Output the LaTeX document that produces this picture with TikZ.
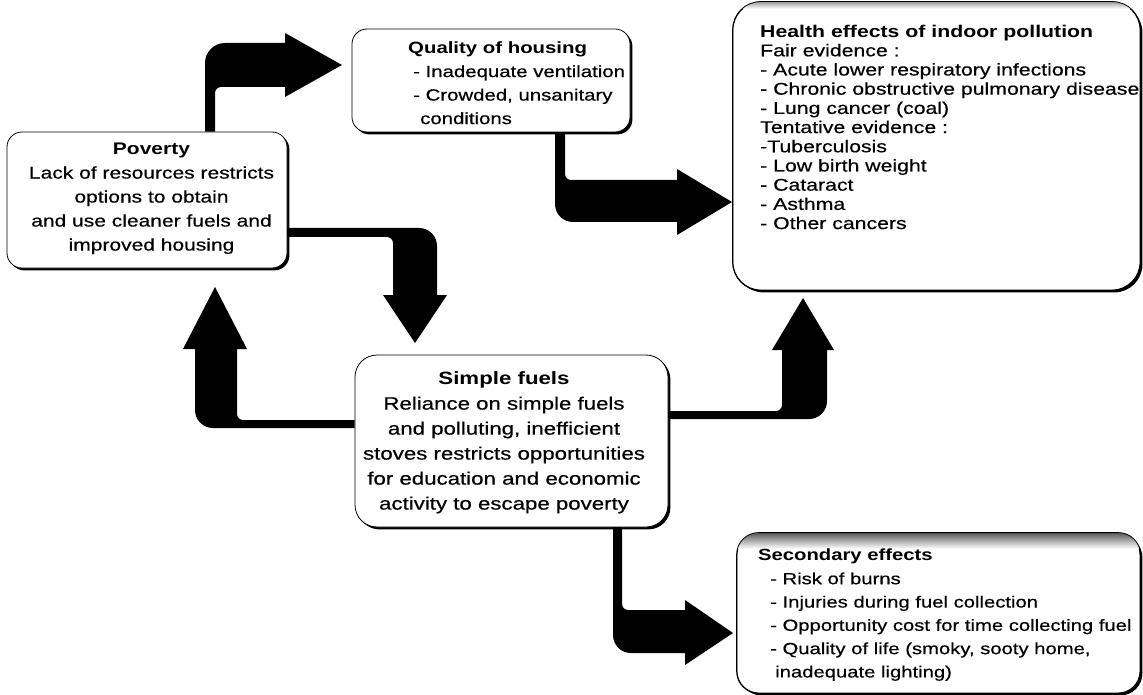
\documentclass[tikz,border=0pt]{standalone}
\usepackage{fontspec}
\setmainfont{Liberation Sans}[FakeStretch=1.25, UprightFeatures={FakeBold=0.5}]
\usetikzlibrary{shadows}
\begin{document}
\begin{tikzpicture}[x=1pt,y=-1pt,
  bx/.style={draw=black, line width=0.8pt, fill=white, rounded corners=#1, inner sep=0pt,
    general shadow={fill=black, shadow xshift=2.4pt, shadow yshift=-2.4pt}},
  arr/.style={fill=black, draw=none},
  txt/.style={inner sep=0pt, text=black}]
\useasboundingbox (0,0) rectangle (1143,695);

% boxes
\node[bx=15pt, minimum width=280pt, minimum height=136pt] (pov) at (147,200) {};
\node[bx=15pt, minimum width=278pt, minimum height=103pt] (qual) at (491,80.5) {};
\node[bx=28pt, minimum width=407pt, minimum height=288pt] (hlt) at (936.5,146) {};
\node[bx=22pt, minimum width=313pt, minimum height=172pt] (fuel) at (511.5,441) {};
\node[bx=22pt, minimum width=403pt, minimum height=160pt] (sec) at (938.5,613) {};

% shaded top bands
\begin{scope}
  \clip[rounded corners=22pt] (sec.north west) rectangle (sec.south east);
  \shade[top color=black!65, bottom color=white] (sec.north west) rectangle ([yshift=-16pt]sec.north east);
\end{scope}
\draw[line width=0.8pt, rounded corners=22pt] (sec.north west) rectangle (sec.south east);
\begin{scope}
  \clip[rounded corners=28pt] (hlt.north west) rectangle (hlt.south east);
  \shade[top color=black!40, bottom color=white] (hlt.north west) rectangle ([yshift=-7pt]hlt.north east);
\end{scope}
\draw[line width=0.8pt, rounded corners=28pt] (hlt.north west) rectangle (hlt.south east);

% arrows
% Poverty -> Quality of housing
\fill[arr] (205,0 |- pov.north) -- (205,63) .. controls (205,52) and (214,43) .. (225,43)
  -- (285,43) -- (285,33) -- (342,65) -- (285,97) -- (285,87) -- (221,87)
  .. controls (217.7,87) and (215,89.7) .. (215,93) -- (215,0 |- pov.north) -- cycle;
% Quality of housing -> Health effects
\fill[arr] (555,0 |- qual.south) -- (555,204) .. controls (555,214) and (563,222) .. (573,222)
  -- (677,222) -- (677,235) -- (732,202) -- (677,169) -- (677,180) -- (571,180)
  .. controls (567.7,180) and (565,177.3) .. (565,174) -- (565,0 |- qual.south) -- cycle;
% Poverty -> Simple fuels
\fill[arr] (pov.east |- 0,228) -- (419,228) .. controls (429,228) and (437,236) .. (437,246)
  -- (437,295) -- (447,295) -- (415,343) -- (383,295) -- (393,295) -- (393,243)
  .. controls (393,239.7) and (390.3,237) .. (387,237) -- (pov.east |- 0,237) -- cycle;
% Simple fuels -> Poverty
\fill[arr] (fuel.west |- 0,420) -- (243,420) .. controls (239.7,420) and (237,417.3) .. (237,414)
  -- (237,349) -- (247,349) -- (215,287) -- (183,349) -- (195,349) -- (195,410)
  .. controls (195,420) and (203,428) .. (213,428) -- (fuel.west |- 0,428) -- cycle;
% Simple fuels -> Health effects
\fill[arr] (fuel.east |- 0,411) -- (776,411) .. controls (779.3,411) and (782,408.3) .. (782,405)
  -- (782,350) -- (772,350) -- (803,298) -- (834,350) -- (827,350) -- (827,401)
  .. controls (827,411) and (819,419) .. (809,419) -- (fuel.east |- 0,419) -- cycle;
% Simple fuels -> Secondary effects
\fill[arr] (613,0 |- fuel.south) -- (613,635) .. controls (613,645) and (621,653) .. (631,653)
  -- (685,653) -- (685,665) -- (733,633) -- (685,600) -- (685,610) -- (628,610)
  .. controls (624.7,610) and (622,607.3) .. (622,604) -- (622,0 |- fuel.south) -- cycle;

% texts
\node[txt, align=center, font=\fontsize{16.8}{24}\selectfont] (povT) at (151.5,198.5)
  {\textbf{Poverty}\\Lack of resources restricts\\options to obtain\\and use cleaner fuels and\\improved housing};
\node[txt, anchor=west, align=left, font=\fontsize{16.3}{23.5}\selectfont] (qualT) at (408,83)
  {\textbf{Quality of housing}\\\hspace*{5pt}- Inadequate ventilation\\\hspace*{5pt}- Crowded, unsanitary\\\hspace*{12pt}conditions};
\node[txt, anchor=west, align=left, font=\fontsize{17}{19.2}\selectfont] (hltT) at (760,127)
  {\textbf{Health effects of indoor pollution}\\Fair evidence :\\- Acute lower respiratory infections\\- Chronic obstructive pulmonary disease\\- Lung cancer (coal)\\Tentative evidence :\\-Tuberculosis\\- Low birth weight\\- Cataract\\- Asthma\\- Other cancers};
\node[txt, align=center, font=\fontsize{17.8}{25}\selectfont] (fuelT) at (504,442.5)
  {\textbf{Simple fuels}\\Reliance on simple fuels\\and polluting, inefficient\\stoves restricts opportunities\\for education and economic\\activity to escape poverty};
\node[txt, anchor=west, align=left, font=\fontsize{16.2}{23.3}\selectfont] (secT) at (758,615)
  {\textbf{Secondary effects}\\\hspace*{12pt}- Risk of burns\\\hspace*{12pt}- Injuries during fuel collection\\\hspace*{12pt}- Opportunity cost for time collecting fuel\\\hspace*{12pt}- Quality of life (smoky, sooty home,\\\hspace*{17pt}inadequate lighting)};
\end{tikzpicture}
\end{document}
